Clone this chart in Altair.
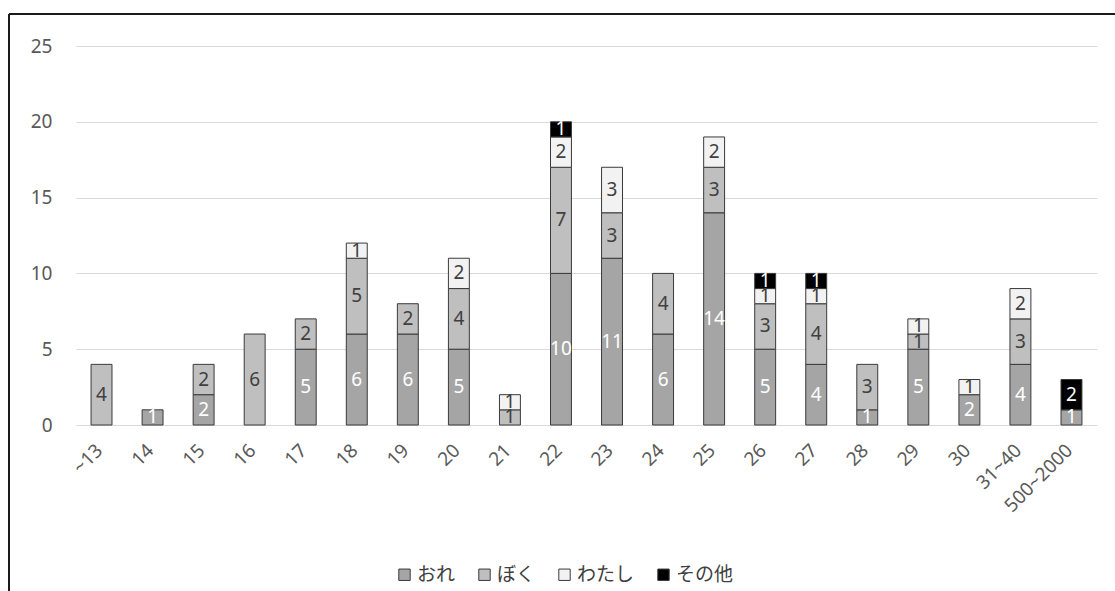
import altair as alt
import pandas as pd

# Age groups on the x axis
categories = ["~13", "14", "15", "16", "17", "18", "19", "20", "21", "22",
              "23", "24", "25", "26", "27", "28", "29", "30", "31~40", "500~2000"]

# Counts per first-person pronoun
ore     = [0, 1, 2, 0, 5, 6, 6, 5, 0, 10, 11, 6, 14, 5, 4, 1, 5, 2, 4, 1]
boku    = [4, 0, 2, 6, 2, 5, 2, 4, 1, 7, 3, 4, 3, 3, 4, 3, 1, 0, 3, 0]
watashi = [0, 0, 0, 0, 0, 1, 0, 2, 1, 2, 3, 0, 2, 1, 1, 0, 1, 1, 2, 0]
sonota  = [0, 0, 0, 0, 0, 0, 0, 0, 0, 1, 0, 0, 0, 1, 1, 0, 0, 0, 0, 2]

series_names = ["おれ", "ぼく", "わたし", "その他"]
series_values = [ore, boku, watashi, sonota]
fill_colors = ["#a5a5a5", "#bfbfbf", "#f2f2f2", "#000000"]
label_colors = ["#ffffff", "#404040", "#404040", "#ffffff"]

rows = []
for k, (name, vals) in enumerate(zip(series_names, series_values)):
    for cat, v in zip(categories, vals):
        rows.append({"cat": cat, "series": name, "value": v, "ord": k,
                     "lc": label_colors[k]})
df = pd.DataFrame(rows)

W, H = 1021, 379
LEFT, TOP = 76, 46
FONT = "Noto Sans"
JFONT = "Noto Sans CJK JP"
FS = 19

base = (
    alt.Chart(df)
    .transform_filter("datum.value > 0")
    .transform_stack(stack="value", groupby=["cat"], as_=["y0", "y1"],
                     sort=[alt.SortField("ord", order="ascending")])
    .transform_calculate(mid="(datum.y0 + datum.y1) / 2")
)

x_enc = alt.X("cat:N", sort=categories, title=None,
              scale=alt.Scale(paddingInner=0.59, paddingOuter=0.295),
              axis=alt.Axis(labelAngle=-45, labelAlign="right", labelBaseline="middle",
                            labelPadding=22, labelOffset=-2, ticks=False, domain=False,
                            labelFont=FONT, labelFontSize=FS, labelColor="#595959"))

bars = base.mark_bar(stroke="#3a3a3a", strokeWidth=1).encode(
    x=x_enc,
    y=alt.Y("y0:Q", title=None,
            scale=alt.Scale(domain=[0, 25], nice=False),
            axis=alt.Axis(values=[0, 5, 10, 15, 20, 25], ticks=False, domain=False,
                          grid=True, gridColor="#d9d9d9", gridWidth=1,
                          labelPadding=24, labelFont=FONT, labelFontSize=FS,
                          labelColor="#595959")),
    y2="y1:Q",
    color=alt.Color("series:N", sort=series_names,
                    scale=alt.Scale(domain=series_names, range=fill_colors),
                    legend=alt.Legend(title=None, orient="none", direction="horizontal",
                                      legendX=319, legendY=519,
                                      symbolType="square", symbolSize=130,
                                      symbolStrokeColor="#3a3a3a", symbolStrokeWidth=1,
                                      symbolOpacity=1,
                                      labelFont=JFONT, labelFontSize=FS,
                                      labelColor="#404040", columnPadding=19,
                                      labelOffset=3)),
)

labels = base.mark_text(font=FONT, fontSize=FS, baseline="middle", align="center").encode(
    x=alt.X("cat:N", sort=categories),
    y=alt.Y("mid:Q"),
    text=alt.Text("value:Q"),
    color=alt.Color("lc:N", scale=None),
)

# Outer frame of the chart area (left and top edges)
frame_left = alt.Chart(df).mark_rule(color="#1a1a1a", strokeWidth=2).encode(
    x=alt.value(9 - LEFT), y=alt.value(14 - TOP), y2=alt.value(591 - TOP))
frame_top = alt.Chart(df).mark_rule(color="#1a1a1a", strokeWidth=2).encode(
    x=alt.value(9 - LEFT), x2=alt.value(1115 - LEFT), y=alt.value(14 - TOP))

chart = (
    alt.layer(bars, labels, frame_left, frame_top)
    .properties(width=W, height=H, background="white",
                autosize=alt.AutoSizeParams(type="none"),
                padding={"left": LEFT, "top": TOP, "right": 1115 - LEFT - W,
                         "bottom": 591 - TOP - H})
    .configure_view(strokeWidth=0, stroke="transparent")
)

chart.save("out.html", embed_options={"renderer": "svg", "actions": False})
